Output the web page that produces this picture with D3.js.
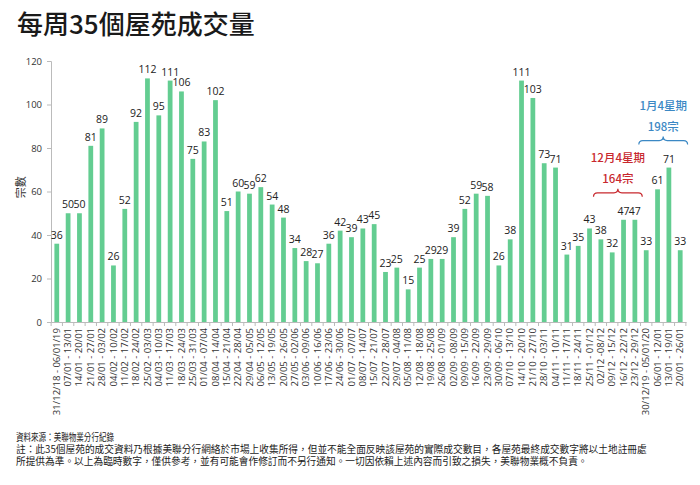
<!DOCTYPE html>
<meta charset="utf-8">
<head>
  <title>每周35個屋苑成交量</title>
  <script src="https://cdn.jsdelivr.net/npm/d3@7"></script>
  <style>
    body { margin: 0; background: #fff; font-family: "Open Sans", "Noto Sans CJK TC", sans-serif; }
    .axis text { fill: #333; font-family: "Open Sans", sans-serif; }
    .note { font-family: "Noto Sans CJK TC", sans-serif; font-size: 9.7px; fill: #222; }
  </style>
</head>
<body>
<div id="chart"></div>
<script>
// weekly labels (2019 -> Jan 2020)
var weeks = ["31/12/18 - 06/01/19","07/01 - 13/01","14/01 - 20/01","21/01 - 27/01","28/01 - 03/02",
  "04/02 - 10/02","11/02 - 17/02","18/02 - 24/02","25/02 - 03/03","04/03 - 10/03","11/03 - 17/03",
  "18/03 - 24/03","25/03 - 31/03","01/04 - 07/04","08/04 - 14/04","15/04 - 21/04","22/04 - 28/04",
  "29/04 - 05/05","06/05 - 12/05","13/05 - 19/05","20/05 - 26/05","27/05 - 02/06","03/06 - 09/06",
  "10/06 - 16/06","17/06 - 23/06","24/06 - 30/06","01/07 - 07/07","08/07 - 14/07","15/07 - 21/07",
  "22/07 - 28/07","29/07 - 04/08","05/08 - 11/08","12/08 - 18/08","19/08 - 25/08","26/08 - 01/09",
  "02/09 - 08/09","09/09 - 15/09","16/09 - 22/09","23/09 - 29/09","30/09 - 06/10","07/10 - 13/10",
  "14/10 - 20/10","21/10 - 27/10","28/10 - 03/11","04/11 - 10/11","11/11 - 17/11","18/11 - 24/11",
  "25/11 - 01/12","02/12 -08/12","09/12 - 15/12","16/12 - 22/12","23/12 - 29/12","30/12/19 - 05/01/20",
  "06/01 - 12/01","13/01 - 19/01","20/01 - 26/01"];

var deals = [36,50,50,81,89,26,52,92,112,95,111,106,75,83,102,51,60,59,62,54,48,34,28,27,36,42,39,43,45,23,
  25,15,25,29,29,39,52,59,58,26,38,111,103,73,71,31,35,43,38,32,47,47,33,61,71,33];

var yTicks = [0,20,40,60,80,100,120];

// bracket groups: first/last week index, two label lines, colour
var groups = [
  {from: 48, to: 51, title: "12月4星期", total: "164宗", color: "#c8282e"},
  {from: 52, to: 55, title: "1月4星期", total: "198宗", color: "#3b88c4"}
];

var notes = [
  "資料來源：美聯物業分行紀錄",
  "註：此35個屋苑的成交資料乃根據美聯分行網絡於市場上收集所得，但並不能全面反映該屋苑的實際成交數目，各屋苑最終成交數字將以土地註冊處",
  "所提供為準。以上為臨時數字，僅供參考，並有可能會作修訂而不另行通知。一切因依賴上述內容而引致之損失，美聯物業概不負責。"
];

var W = 700, H = 485;
var margin = {top: 61, left: 51, right: 14, bottom: 163};

var svg = d3.select("#chart").append("svg")
  .attr("width", W).attr("height", H);

svg.append("text")
  .attr("x", 17).attr("y", 34)
  .style("font-family", "'Noto Sans CJK TC', sans-serif")
  .style("font-size", "26px").style("font-weight", "500")
  .attr("fill", "#1a1a1a")
  .text("每周35個屋苑成交量");

var x = d3.scaleBand().domain(weeks)
  .range([margin.left, W - margin.right])
  .paddingInner(0.58).paddingOuter(0.3);
var y = d3.scaleLinear().domain([0, 120]).range([H - margin.bottom, margin.top]);

// y axis
var yAxis = svg.append("g").attr("class", "axis")
  .attr("transform", "translate(" + margin.left + ",0)")
  .call(d3.axisLeft(y).tickValues(yTicks).tickSize(4).tickPadding(5));
yAxis.attr("font-family", null);
yAxis.selectAll("text").style("font-size", "9.5px");
yAxis.selectAll("line, path").attr("stroke", "#bbb");

svg.append("text")
  .attr("transform", "translate(25," + y(62) + ") rotate(-90)")
  .attr("text-anchor", "middle")
  .style("font-family", "'Noto Sans CJK TC', sans-serif")
  .style("font-size", "11px").attr("fill", "#333")
  .text("宗數");

// x axis
var xAxis = svg.append("g").attr("class", "axis")
  .attr("transform", "translate(0," + y(0) + ")")
  .call(d3.axisBottom(x).tickSize(0).tickPadding(6));
xAxis.attr("font-family", null);
xAxis.select("path").attr("stroke", "#bbb");
xAxis.selectAll("text")
  .style("font-size", "9.5px")
  .attr("transform", "rotate(-90)")
  .attr("text-anchor", "end")
  .attr("x", -6).attr("y", 0).attr("dy", "0.32em");

// small separators between categories
var step = x.step();
xAxis.selectAll(".sep").data(weeks.concat(["end"])).enter().append("line")
  .attr("class", "sep")
  .attr("x1", function(d, i) { return x(weeks[0]) - x.paddingInner() * step / 2 + i * step; })
  .attr("x2", function(d, i) { return x(weeks[0]) - x.paddingInner() * step / 2 + i * step; })
  .attr("y1", 0).attr("y2", 4)
  .attr("stroke", "#bbb");

// bars
svg.append("g").selectAll("rect").data(deals).enter().append("rect")
  .attr("x", function(d, i) { return x(weeks[i]); })
  .attr("y", function(d) { return y(d); })
  .attr("width", x.bandwidth())
  .attr("height", function(d) { return y(0) - y(d); })
  .attr("fill", "#63cd91");

// value labels
svg.append("g").selectAll("text").data(deals).enter().append("text")
  .attr("x", function(d, i) { return x(weeks[i]) + x.bandwidth() / 2; })
  .attr("y", function(d) { return y(d) - 5; })
  .attr("text-anchor", "middle")
  .style("font-size", "10.5px")
  .attr("fill", "#222")
  .text(function(d) { return d; });

// brackets
groups.forEach(function(g) {
  var x0 = x(weeks[g.from]) - 5, x1 = x(weeks[g.to]) + x.bandwidth() + 5;
  var top = d3.max(deals.slice(g.from, g.to + 1));
  var by = y(top) - 27;
  var mid = (x0 + x1) / 2;
  var p = d3.path();
  p.moveTo(x0, by + 4);
  p.quadraticCurveTo(x0, by, x0 + 4, by);
  p.lineTo(mid - 4, by);
  p.quadraticCurveTo(mid, by, mid, by - 4);
  p.quadraticCurveTo(mid, by, mid + 4, by);
  p.lineTo(x1 - 4, by);
  p.quadraticCurveTo(x1, by, x1, by + 4);
  svg.append("path").attr("d", p.toString())
    .attr("fill", "none").attr("stroke", g.color).attr("stroke-width", 1.2);
  svg.append("text").attr("x", mid).attr("y", by - 10)
    .attr("text-anchor", "middle").attr("fill", g.color)
    .style("font-family", "'Noto Sans CJK TC', sans-serif")
    .style("font-size", "11.5px").style("font-weight", "500")
    .text(g.total);
  svg.append("text").attr("x", mid).attr("y", by - 31)
    .attr("text-anchor", "middle").attr("fill", g.color)
    .style("font-family", "'Noto Sans CJK TC', sans-serif")
    .style("font-size", "11.5px").style("font-weight", "500")
    .text(g.title);
});

// footnotes
var noteText = svg.append("g").selectAll("text").data(notes).enter().append("text")
  .attr("class", "note")
  .attr("x", 16)
  .attr("y", function(d, i) { return 441 + i * 11.8; })
  .text(function(d) { return d; });
// the source line is set narrower in the original
noteText.filter(function(d, i) { return i === 0; })
  .attr("textLength", 98).attr("lengthAdjust", "spacingAndGlyphs");
</script>
</body>
</html>
